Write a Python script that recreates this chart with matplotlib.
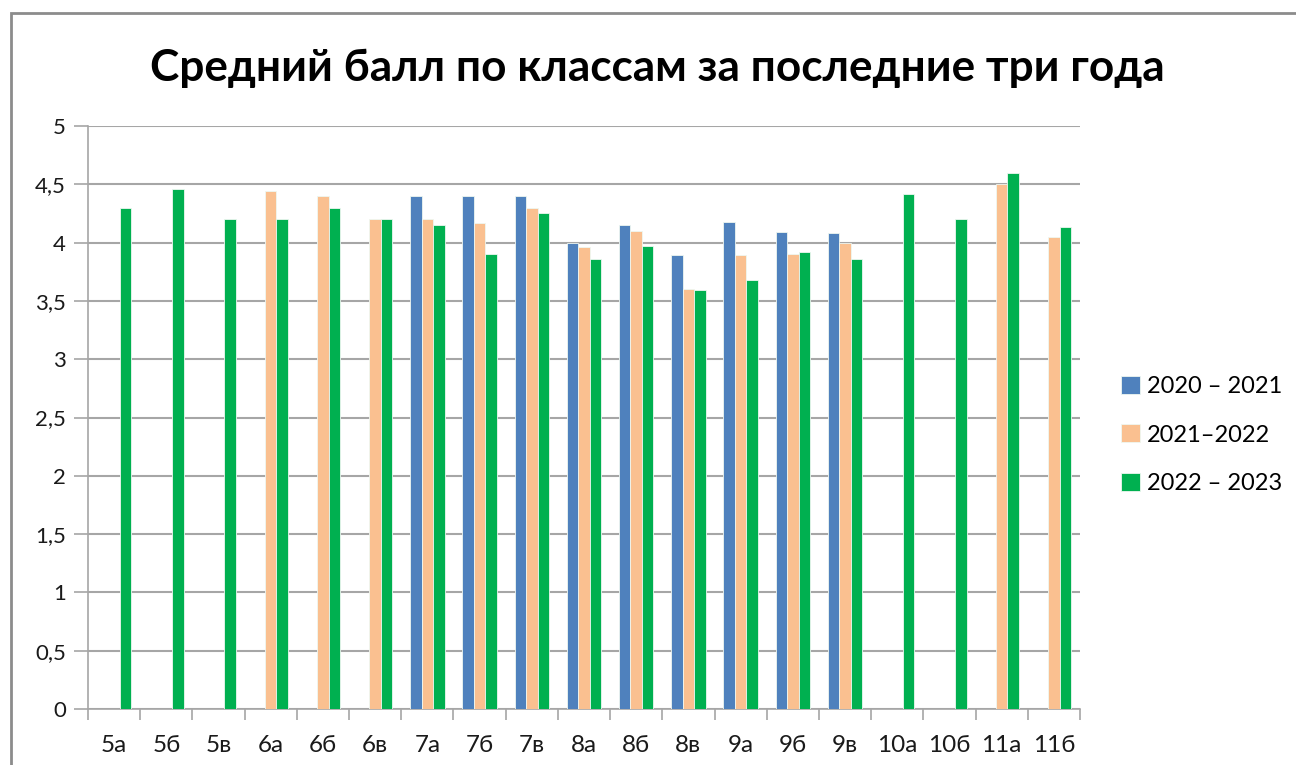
import numpy as np
import matplotlib.pyplot as plt
from matplotlib.patches import Rectangle

plt.rcParams['font.family'] = ['Lato', 'DejaVu Sans']

classes = ['5а', '5б', '5в', '6а', '6б', '6в', '7а', '7б', '7в', '8а',
           '8б', '8в', '9а', '9б', '9в', '10а', '10б', '11а', '11б']
nan = np.nan
y2020 = [nan, nan, nan, nan, nan, nan, 4.4, 4.4, 4.4, 4.0,
         4.15, 3.89, 4.18, 4.09, 4.08, nan, nan, nan, nan]
y2021 = [nan, nan, nan, 4.44, 4.4, 4.2, 4.2, 4.17, 4.3, 3.96,
         4.1, 3.6, 3.89, 3.9, 4.0, nan, nan, 4.5, 4.05]
y2022 = [4.3, 4.46, 4.2, 4.2, 4.3, 4.2, 4.15, 3.9, 4.25, 3.86,
         3.97, 3.59, 3.68, 3.92, 3.86, 4.42, 4.2, 4.6, 4.13]
series = [('2020 – 2021', y2020, '#4F81BD'),
          ('2021–2022', y2021, '#FAC090'),
          ('2022 – 2023', y2022, '#00B050')]

fig = plt.figure(figsize=(12.96, 7.65), dpi=100)
ax = fig.add_axes([88/1296, 56/765, 992/1296, 583/765])

# chart area border
fig.patches.append(Rectangle((11/1296, -0.1), 1.2, 0.1 + 1 - 13/765,
                             transform=fig.transFigure, fill=False,
                             edgecolor='#8c8c8c', linewidth=2))

x = np.arange(len(classes))
w = 0.22
for i, (name, vals, col) in enumerate(series):
    ax.bar(x + (i - 1) * w, vals, w, color=col, edgecolor='#eef7f1',
           linewidth=0.6, label=name, zorder=3)

ax.set_xlim(-0.5, len(classes) - 0.5)
ax.set_ylim(0, 5)
ticks = np.arange(0, 5.01, 0.5)
ax.set_yticks(ticks)
ax.set_yticklabels([('%g' % v).replace('.', ',') for v in ticks],
                   fontsize=16, color='#1a1a1a')
ax.yaxis.grid(True, color='#a6a6a6', linewidth=1.5, zorder=0)
ax.set_xticks(x)
ax.set_xticklabels(classes, fontsize=17.5, color='#1a1a1a')
ax.set_xticks(np.arange(-0.5, len(classes)), minor=True)
ax.tick_params(axis='x', which='major', length=0, pad=19)
ax.tick_params(axis='x', which='minor', length=8, color='#a6a6a6', width=1.2)
ax.tick_params(axis='y', length=10, color='#a6a6a6', width=1.2, pad=6)
for s in ['top', 'right']:
    ax.spines[s].set_visible(False)
for s in ['left', 'bottom']:
    ax.spines[s].set_color('#a6a6a6')
    ax.spines[s].set_linewidth(1.2)

fig.text(657/1296, 1 - 68/765, 'Средний балл по классам за последние три года',
         ha='center', va='center', fontsize=31.8, fontweight='bold')

fig.legend(loc='center left', bbox_to_anchor=(1100/1296, 1 - 435/765), frameon=False,
           fontsize=17, handlelength=0.8, handleheight=0.8, handletextpad=0.3,
           labelspacing=1.15)

fig.savefig('out.png', dpi=100)
